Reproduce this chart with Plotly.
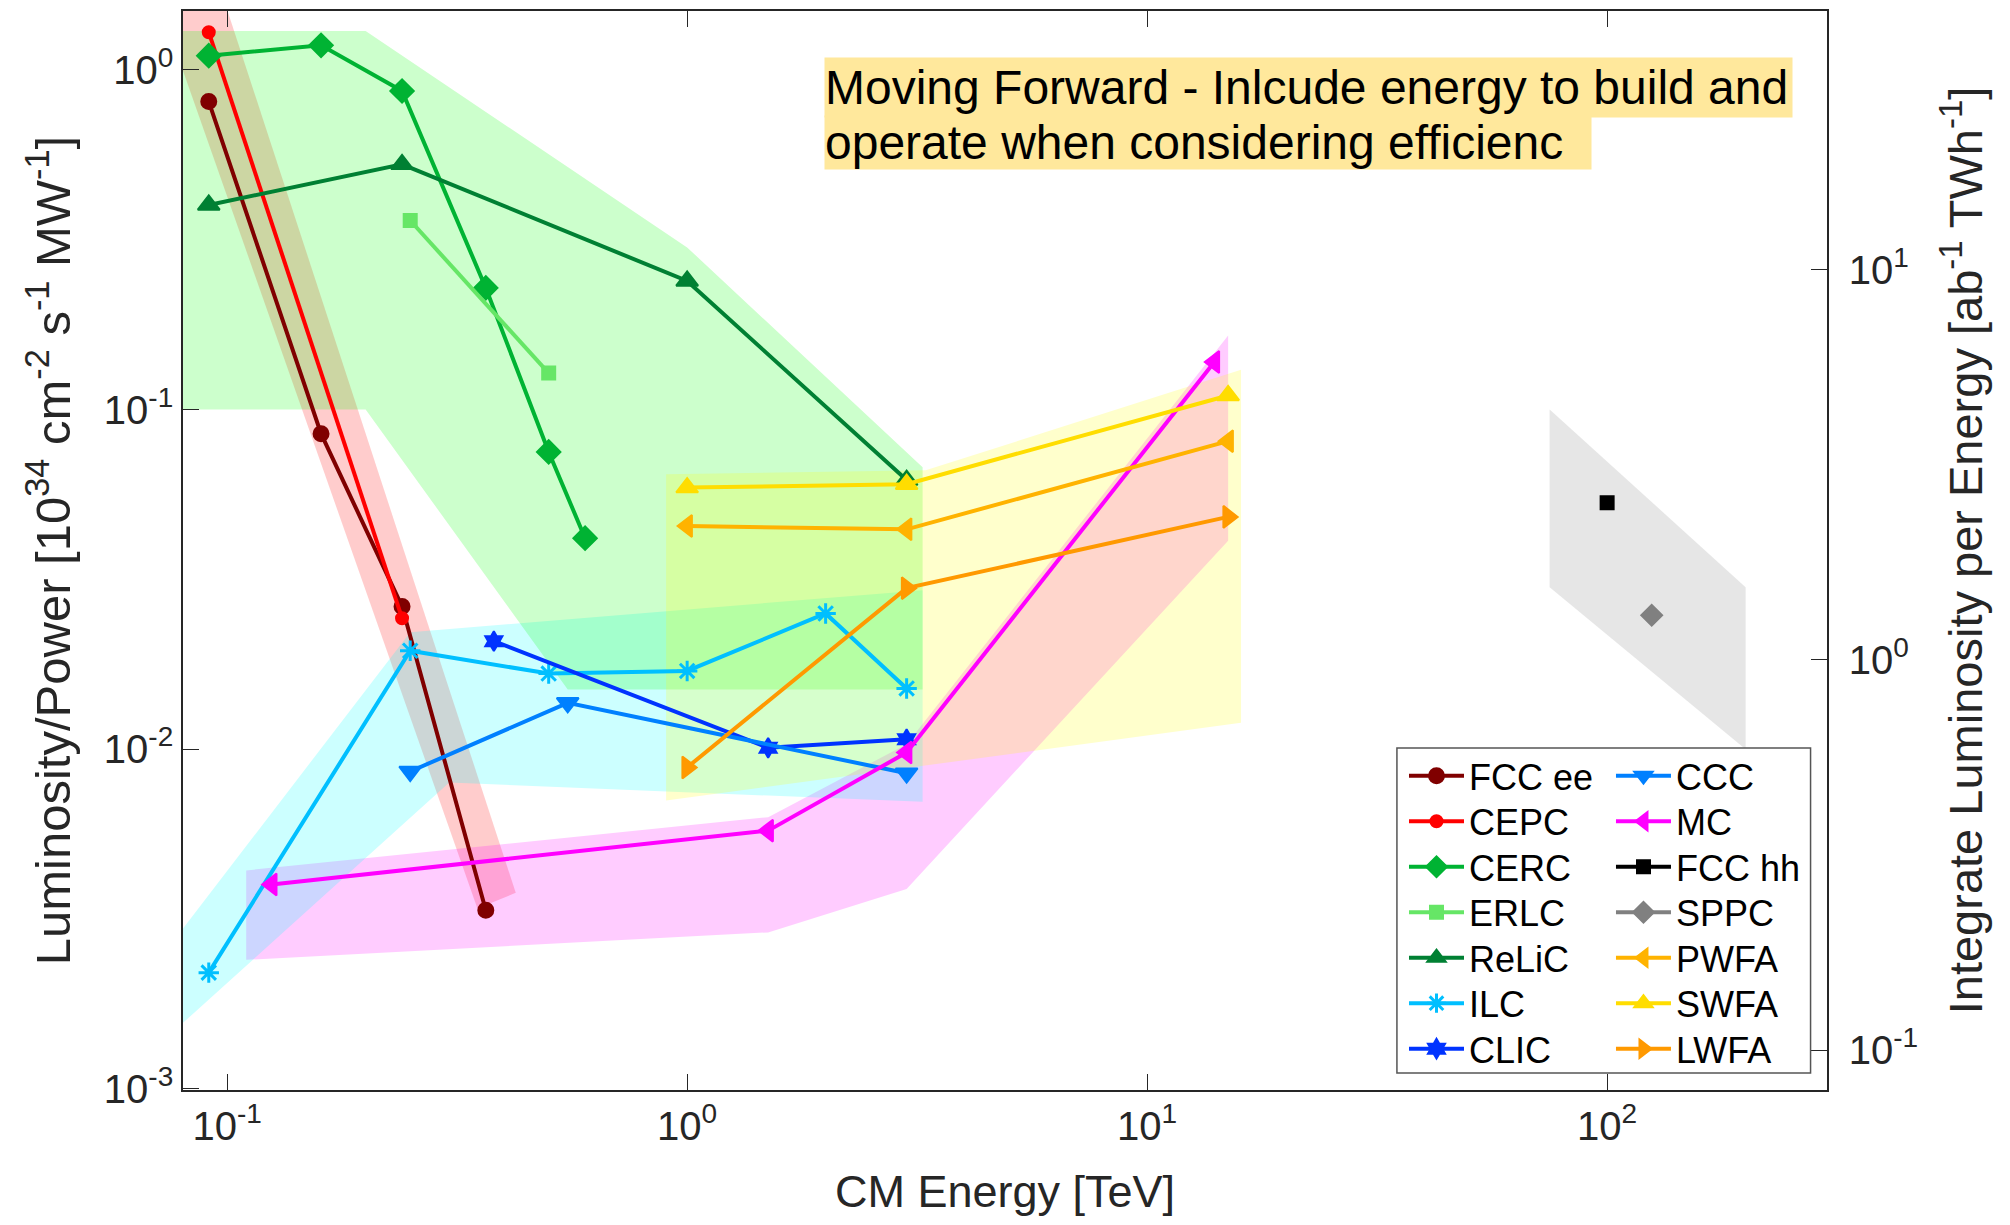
import plotly.graph_objects as go

# ---------------- data (CM energy [TeV], luminosity/power) ----------------
fcc_ee_E = [0.0912, 0.16, 0.24, 0.365]
fcc_ee_L = [0.806, 0.0849, 0.0263, 0.00336]
cepc_E = [0.0912, 0.24]
cepc_L = [1.29, 0.0243]
cerc_E = [0.0912, 0.16, 0.24, 0.365, 0.5, 0.6]
cerc_L = [1.10, 1.18, 0.866, 0.228, 0.075, 0.0418]
erlc_E = [0.25, 0.5]
erlc_L = [0.36, 0.128]
relic_E = [0.0912, 0.24, 1.0, 3.0]
relic_L = [0.40, 0.527, 0.239, 0.062]
ilc_E = [0.0912, 0.25, 0.5, 1.0, 2.0, 3.0]
ilc_L = [0.0022, 0.0195, 0.0167, 0.0170, 0.0251, 0.0151]
clic_E = [0.38, 1.5, 3.0]
clic_L = [0.0208, 0.0101, 0.0107]
ccc_E = [0.25, 0.55, 3.0]
ccc_L = [0.0086, 0.0137, 0.0085]
mc_E = [0.125, 1.5, 3.0, 14.0]
mc_L = [0.0040, 0.00576, 0.00978, 0.138]
fcc_hh_E = [100.0]
fcc_hh_L = [0.0532]
sppc_E = [125.0]
sppc_L = [0.0248]
pwfa_E = [1.0, 3.0, 15.0]
pwfa_L = [0.0454, 0.0444, 0.0807]
swfa_E = [1.0, 3.0, 15.0]
swfa_L = [0.0589, 0.0603, 0.110]
lwfa_E = [1.0, 3.0, 15.0]
lwfa_L = [0.00884, 0.0298, 0.0483]

# shaded regions (polygon vertices in data space)
band_ee_E = [0.0686, 0.0956, 0.424, 0.35]
band_ee_L = [1.81, 1.81, 0.00378, 0.0034]
mc_region_E = [0.11, 1.5, 3.0, 15.0, 15.0, 3.0, 1.5, 0.11]
mc_region_L = [0.0044, 0.00631, 0.01035, 0.165, 0.0411, 0.00388, 0.00289, 0.0024]
lin_region_E = [0.068, 0.25, 3.25, 3.25, 0.304, 0.068]
lin_region_L = [0.00222, 0.0221, 0.0294, 0.0070, 0.00798, 0.00128]
circ_region_E = [0.06, 0.2, 1.0, 3.25, 3.25, 0.55, 0.2, 0.06]
circ_region_L = [1.3, 1.3, 0.3, 0.0676, 0.015, 0.015, 0.1, 0.1]
wfa_region_E = [0.9, 3.3, 16.0, 16.0, 0.9]
wfa_region_L = [0.0645, 0.0662, 0.131, 0.01197, 0.00706]
hh_region_E = [75.0, 200.0, 200.0, 75.0]
hh_region_L = [0.1, 0.03, 0.01, 0.03]

x_tickvals = [0.1, 1, 10, 100]
x_ticktext = ["10<sup>-1</sup>", "10<sup>0</sup>", "10<sup>1</sup>", "10<sup>2</sup>"]
y_tickvals = [0.001, 0.01, 0.1, 1]
y_ticktext = ["10<sup>-3</sup>", "10<sup>-2</sup>", "10<sup>-1</sup>", "10<sup>0</sup>"]
y2_tickvals = [0.1, 1, 10]
y2_ticktext = ["10<sup>-1</sup>", "10<sup>0</sup>", "10<sup>1</sup>"]

fig = go.Figure()

# ---------------- shaded regions ----------------
regions = [
    (band_ee_E, band_ee_L, "rgba(255,0,0,0.2)"),
    (mc_region_E, mc_region_L, "rgba(255,0,255,0.2)"),
    (lin_region_E, lin_region_L, "rgba(0,255,255,0.2)"),
    (circ_region_E, circ_region_L, "rgba(0,255,0,0.2)"),
    (wfa_region_E, wfa_region_L, "rgba(255,255,0,0.2)"),
    (hh_region_E, hh_region_L, "rgba(128,128,128,0.2)"),
]
for E, L, c in regions:
    fig.add_trace(go.Scatter(x=E + [E[0]], y=L + [L[0]], mode="lines", fill="toself",
                             fillcolor=c, line=dict(width=0, color=c),
                             showlegend=False, hoverinfo="skip"))

# ---------------- series ----------------
series = [
    ("FCC ee", fcc_ee_E, fcc_ee_L, "#800000", "circle", 15),
    ("CEPC", cepc_E, cepc_L, "#FF0000", "circle", 12),
    ("CERC", cerc_E, cerc_L, "#00B333", "diamond", 18),
    ("ERLC", erlc_E, erlc_L, "#66E666", "square", 13),
    ("ReLiC", relic_E, relic_L, "#008033", "triangle-up", 19),
    ("ILC", ilc_E, ilc_L, "#00BFFF", "asterisk-open", 17),
    ("CLIC", clic_E, clic_L, "#0033FF", "hexagram", 15),
    ("CCC", ccc_E, ccc_L, "#0080FF", "triangle-down", 19),
    ("MC", mc_E, mc_L, "#FF00FF", "triangle-left", 19),
    ("FCC hh", fcc_hh_E, fcc_hh_L, "#000000", "square", 13),
    ("SPPC", sppc_E, sppc_L, "#808080", "diamond", 16),
    ("PWFA", pwfa_E, pwfa_L, "#FFB300", "triangle-left", 19),
    ("SWFA", swfa_E, swfa_L, "#FFDD00", "triangle-up", 19),
    ("LWFA", lwfa_E, lwfa_L, "#FF9900", "triangle-right", 19),
]

font_family = "Liberation Sans, Arial, Helvetica, sans-serif"
axis_col = "#262626"

legend_layouts = {}
col_x = [0.7427, 0.8686]
row_y0 = 0.2912
row_dy = 0.04217
for i, (name, E, L, col, sym, size) in enumerate(series):
    lw = 3 if sym == "asterisk-open" else 2
    leg_name = "legend" if i == 0 else "legend%d" % (i + 1)
    fig.add_trace(go.Scatter(x=E, y=L, mode="lines+markers", name=name,
                             line=dict(color=col, width=4),
                             marker=dict(symbol=sym, size=size, color=col,
                                         line=dict(color=col, width=lw)),
                             legend=leg_name))
    c, r = divmod(i, 7)
    legend_layouts[leg_name] = dict(
        x=col_x[c], y=row_y0 - r * row_dy, xanchor="left", yanchor="middle",
        bgcolor="rgba(255,255,255,0)", borderwidth=0,
        font=dict(size=36, color="black", family=font_family), itemwidth=55)

# invisible trace to activate right axis
fig.add_trace(go.Scatter(x=[1], y=[1], yaxis="y2", mode="markers",
                         marker=dict(opacity=0), showlegend=False, hoverinfo="skip"))

common_axis = dict(type="log", showgrid=False, zeroline=False, ticks="inside", ticklen=16,
                   tickwidth=1.2, tickcolor=axis_col, showline=True, linecolor=axis_col,
                   linewidth=1.5, tickfont=dict(size=40, color=axis_col, family=font_family))

fig.update_layout(
    width=2002, height=1209,
    margin=dict(l=175, r=183, t=1, b=123),
    paper_bgcolor="white", plot_bgcolor="white",
    font=dict(family=font_family, color=axis_col),
    xaxis=dict(range=[-1.096, 2.478], tickvals=x_tickvals, ticktext=x_ticktext,
               mirror="ticks",
               title=dict(text="CM Energy [TeV]", font=dict(size=45, color=axis_col), standoff=37),
               **common_axis),
    yaxis=dict(range=[-3.003, 0.173], tickvals=y_tickvals, ticktext=y_ticktext,
               title=dict(text="Luminosity/Power [10<sup>34</sup> cm<sup>-2</sup> s<sup>-1</sup> MW<sup>-1</sup>]",
                          font=dict(size=49, color=axis_col), standoff=18),
               **common_axis),
    yaxis2=dict(range=[-1.102, 1.663], tickvals=y2_tickvals, ticktext=y2_ticktext,
                overlaying="y", side="right", anchor="x", ticklabelstandoff=12,
                title=dict(text="Integrate Luminosity per Energy [ab<sup>-1</sup> TWh<sup>-1</sup>]",
                           font=dict(size=47, color=axis_col), standoff=32),
                **common_axis),
    shapes=[dict(type="rect", xref="paper", yref="paper", x0=0.7384, x1=0.990, y0=0.0157, y1=0.317,
                 fillcolor="white", line=dict(color="#555555", width=1.5), layer="above")],
    annotations=[
        dict(xref="paper", yref="paper", x=0.3899, y=0.9576, xanchor="left", yanchor="top",
             text="Moving Forward - Inlcude energy to build and", showarrow=False,
             font=dict(size=48, color="black", family=font_family), bgcolor="#FFE89C",
             width=967, height=59, align="left", valign="middle", borderpad=0),
        dict(xref="paper", yref="paper", x=0.3899, y=0.9032, xanchor="left", yanchor="top",
             text="operate when considering efficienc", showarrow=False,
             font=dict(size=48, color="black", family=font_family), bgcolor="#FFE89C",
             width=766, height=53, align="left", valign="middle", borderpad=0),
    ],
    **legend_layouts,
)

fig.write_html("out.html")
